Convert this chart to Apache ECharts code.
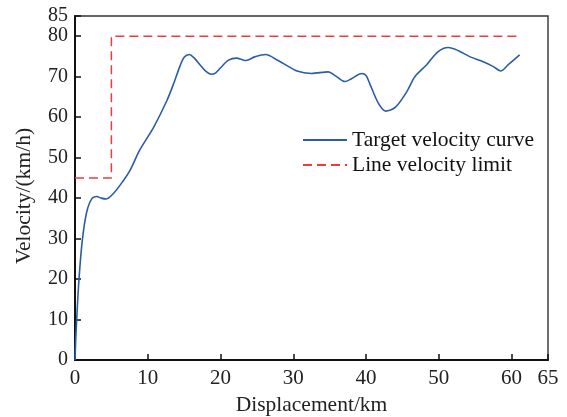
<!DOCTYPE html>
<html>
<head>
<meta charset="utf-8">
<script src="https://cdn.jsdelivr.net/npm/echarts@6/dist/echarts.min.js"></script>
<style>
  html, body { margin: 0; padding: 0; background: #fff; }
  #chart { width: 567px; height: 417px; }
</style>
</head>
<body>
<div id="chart"></div>
<script>
// Target velocity profile along the route (displacement km, velocity km/h)
const targetDisp = [0, 0.1, 0.23, 0.55, 1.0, 1.6, 2.3, 3.0, 3.6, 4.3, 5.3, 6.4, 7.6, 8.9, 10.8, 12.6, 13.6, 14.4, 15.0, 15.7, 16.4, 17.2, 18.0, 18.7, 19.3, 20.0, 21.1, 22.2, 23.0, 23.5, 24.7, 26.2, 27.9, 28.6, 30.5, 32.5, 34.8, 35.8, 37.1, 38.0, 39.4, 40.0, 40.5, 41.7, 42.7, 44.0, 45.6, 46.7, 48.3, 49.9, 51.3, 52.7, 54.3, 56.1, 57.5, 58.5, 59.5, 61.1];
const targetVel = [0, 5, 10, 20, 29.5, 36.5, 39.8, 40.4, 40.0, 39.8, 41.2, 43.7, 47, 51.9, 57.5, 64, 68.5, 72.5, 74.8, 75.5, 74.6, 72.9, 71.3, 70.6, 70.9, 72.2, 74.1, 74.6, 74.2, 74.0, 74.9, 75.5, 74.0, 73.3, 71.4, 70.8, 71.2, 70.2, 68.8, 69.5, 70.8, 70.3, 68.3, 63.4, 61.5, 62.4, 66.3, 70.0, 72.9, 76.2, 77.2, 76.4, 74.9, 73.7, 72.5, 71.4, 72.9, 75.4];

// Line speed limit (step profile)
const limitDisp = [0, 5, 5, 61];
const limitVel = [45, 45, 80, 80];

// Axis tick values
const xTicks = [0, 10, 20, 30, 40, 50, 60, 65];
const yTicks = [0, 10, 20, 30, 40, 50, 60, 70, 80, 85];

const seriesNames = ['Target velocity curve', 'Line velocity limit'];

const font = 'Liberation Serif';
const zip = (a, b) => a.map((v, i) => [v, b[i]]);

const chart = echarts.init(document.getElementById('chart'), null, { renderer: 'canvas' });
chart.setOption({
  animation: false,
  backgroundColor: '#fff',
  grid: {
    left: 75, right: 19, top: 16, bottom: 57,
    outerBoundsMode: 'none', containLabel: false,
    show: true, borderColor: '#333', borderWidth: 1.4
  },
  legend: {
    left: 302, top: 129, orient: 'vertical', padding: 0,
    itemWidth: 44, itemHeight: 10, itemGap: 3,
    itemStyle: { opacity: 0 },
    textStyle: { fontFamily: font, fontSize: 21.5, color: '#111' },
    data: seriesNames
  },
  xAxis: {
    type: 'value', min: 0, max: 65,
    name: 'Displacement/km', nameLocation: 'middle', nameGap: 33,
    nameTextStyle: { fontFamily: font, fontSize: 21.5, color: '#222' },
    axisLine: { lineStyle: { color: '#111', width: 2 } },
    axisTick: { inside: true, length: 6, customValues: xTicks, lineStyle: { color: '#111', width: 1.5 } },
    axisLabel: { fontFamily: font, fontSize: 21, color: '#222', margin: 8, customValues: xTicks, hideOverlap: false },
    splitLine: { show: false }
  },
  yAxis: {
    type: 'value', min: 0, max: 85,
    name: 'Velocity/(km/h)', nameLocation: 'middle', nameGap: 40,
    nameTextStyle: { fontFamily: font, fontSize: 21.5, color: '#222', padding: [0, 16, 0, 0] },
    axisLine: { show: true, lineStyle: { color: '#111', width: 2 } },
    axisTick: { show: true, inside: true, length: 6, customValues: yTicks, lineStyle: { color: '#111', width: 1.5 } },
    axisLabel: { fontFamily: font, fontSize: 20, lineHeight: 18, color: '#222', margin: 7, customValues: yTicks, hideOverlap: false },
    splitLine: { show: false }
  },
  series: [
    {
      name: seriesNames[0], type: 'line', smooth: 0.3, symbol: 'none',
      lineStyle: { color: '#2b5ca8', width: 1.6 },
      itemStyle: { color: '#2b5ca8' },
      data: zip(targetDisp, targetVel)
    },
    {
      name: seriesNames[1], type: 'line', symbol: 'none',
      lineStyle: { color: '#ee3b3b', width: 1.5, type: [9, 5] },
      itemStyle: { color: '#ee3b3b' },
      data: zip(limitDisp, limitVel)
    }
  ]
});
</script>
</body>
</html>
